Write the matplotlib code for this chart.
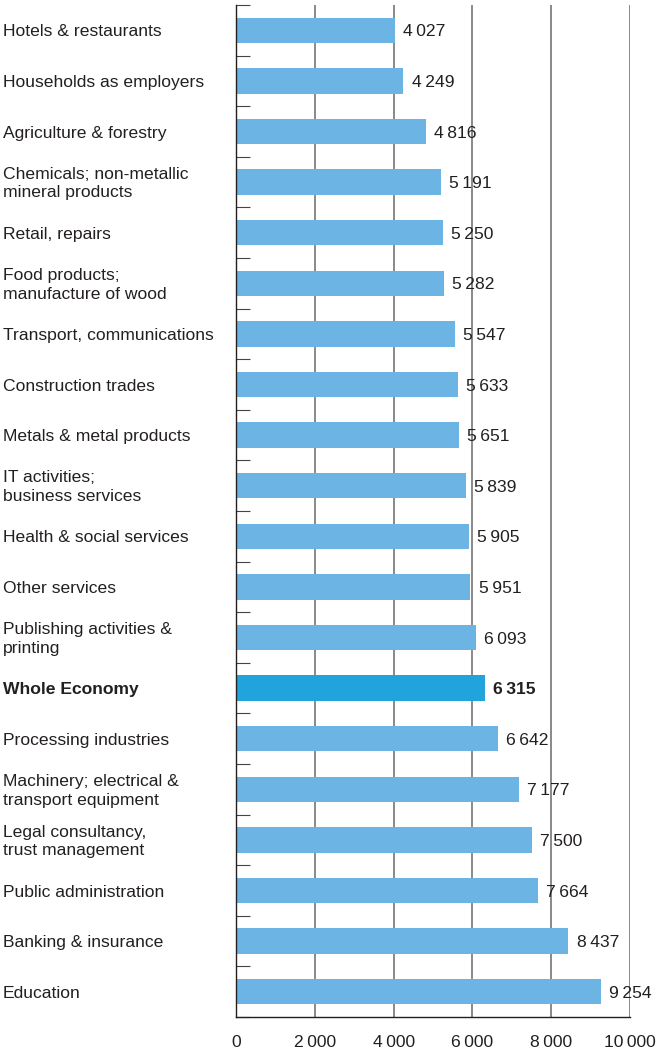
import matplotlib.pyplot as plt
from matplotlib.transforms import blended_transform_factory

# =========================
# DADOS
# =========================
categorias = [
    'Hotels & restaurants',
    'Households as employers',
    'Agriculture & forestry',
    'Chemicals; non-metallic\nmineral products',
    'Retail, repairs',
    'Food products;\nmanufacture of wood',
    'Transport, communications',
    'Construction trades',
    'Metals & metal products',
    'IT activities;\nbusiness services',
    'Health & social services',
    'Other services',
    'Publishing activities &\nprinting',
    'Whole Economy',
    'Processing industries',
    'Machinery; electrical &\ntransport equipment',
    'Legal consultancy,\ntrust management',
    'Public administration',
    'Banking & insurance',
    'Education',
]
valores = [4027, 4249, 4816, 5191, 5250, 5282, 5547, 5633, 5651, 5839,
           5905, 5951, 6093, 6315, 6642, 7177, 7500, 7664, 8437, 9254]
destaque = 'Whole Economy'
xticks = [0, 2000, 4000, 6000, 8000, 10000]

cor_barra = '#6cb4e4'
cor_destaque = '#21a3dc'
cor_texto = '#231f20'
fs = 12.6


def fmt(v):
    return f'{v:,}'.replace(',', '\u2009')


plt.rcParams['font.family'] = ['Liberation Sans', 'DejaVu Sans']

fig = plt.figure(figsize=(6.69, 10.52), dpi=100)
ax = fig.add_axes([236 / 669, 35 / 1052, 394 / 669, 1012 / 1052])

pos = list(range(len(categorias)))
cores = [cor_destaque if c == destaque else cor_barra for c in categorias]
ax.barh(pos, valores, height=0.5, color=cores, zorder=2)

ax.set_xlim(0, 10000)
ax.set_ylim(len(categorias) - 0.5, -0.5)

# grade vertical
for x in xticks[1:]:
    ax.axvline(x, color='#808080', linewidth=1.3, zorder=1)

ax.spines['top'].set_visible(False)
ax.spines['right'].set_visible(False)
ax.spines['left'].set_color(cor_texto)
ax.spines['bottom'].set_color(cor_texto)
ax.spines['left'].set_linewidth(1.0)
ax.spines['bottom'].set_linewidth(1.0)

ax.set_xticks(xticks)
ax.set_xticklabels([fmt(x) for x in xticks], fontsize=fs, color=cor_texto)
ax.tick_params(axis='x', length=0, pad=13)

# pequenos traços entre as barras
ax.set_yticks([p - 0.5 for p in pos] + [len(pos) - 0.5])
ax.set_yticklabels([])
ax.tick_params(axis='y', direction='in', length=10, width=0.8,
               color='#444444')

trans = blended_transform_factory(fig.transFigure, ax.transData)
for p, c, v in zip(pos, categorias, valores):
    peso = 'bold' if c == destaque else 'normal'
    ax.text(3 / 669, p + 0.03, c, transform=trans, ha='left', va='center',
            fontsize=fs, color=cor_texto, fontweight=peso,
            linespacing=1.3)
    ax.text(v + 210, p + 0.03, fmt(v), ha='left', va='center', fontsize=fs,
            color=cor_texto, fontweight=peso, zorder=3)

fig.savefig('out.png', dpi=100)
